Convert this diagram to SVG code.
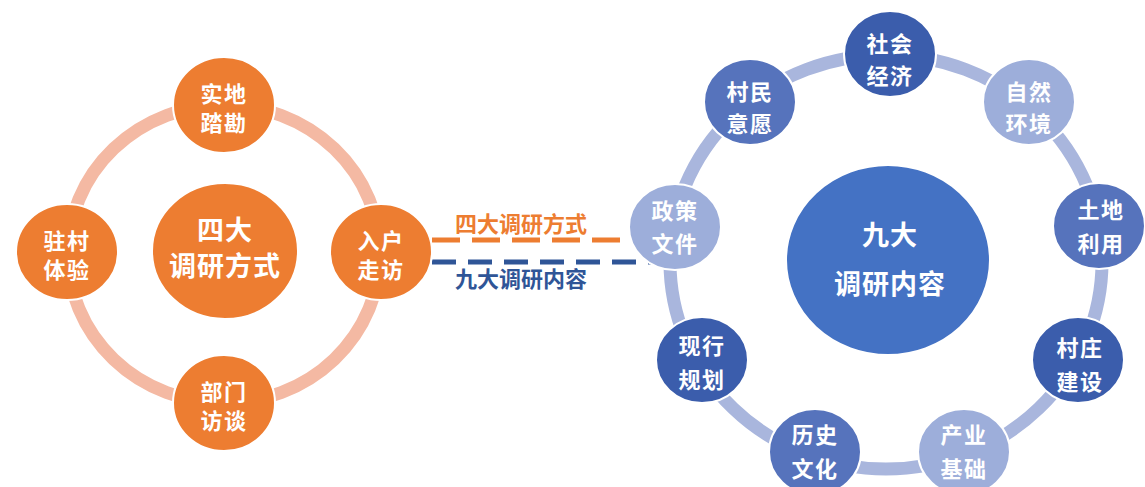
<svg xmlns="http://www.w3.org/2000/svg" width="1145" height="487" viewBox="0 0 1145 487">
<style>
.t{font-family:"Noto Sans CJK SC","Noto Sans",sans-serif;font-weight:bold;fill:#fff;text-anchor:middle;font-size:22px;letter-spacing:1.5px}
.tb{font-size:27px;letter-spacing:1px}
.o{fill:#ED7D31;stroke:#fff;stroke-width:2}
.d{fill:#3B5DAC;stroke:#fff;stroke-width:2}
.m{fill:#5673BC;stroke:#fff;stroke-width:2}
.l{fill:#9DAEDA;stroke:#fff;stroke-width:2}
.lbl{font-family:"Noto Sans CJK SC","Noto Sans",sans-serif;font-weight:bold;font-size:22px;text-anchor:middle}
</style>
<rect width="1145" height="487" fill="#fff"/>
<g id="connectors">
<ellipse cx="224" cy="254" rx="156" ry="149" fill="none" stroke="#F4B9A3" stroke-width="13"/>
<ellipse cx="886" cy="262" rx="216" ry="207" fill="none" stroke="#A9B6DD" stroke-width="13"/>
<line x1="432" y1="240" x2="624" y2="240" stroke="#ED7D31" stroke-width="5" stroke-dasharray="28 12"/>
<line x1="432" y1="262" x2="662" y2="262" stroke="#2F5597" stroke-width="5" stroke-dasharray="24 12"/>
<text class="lbl" x="521" y="232" fill="#ED7D31">四大调研方式</text>
<text class="lbl" x="521" y="287" fill="#2F5597">九大调研内容</text>
</g>
<g id="left-center"><ellipse class="o" cx="225" cy="251" rx="73" ry="68"/><text class="t tb" x="225" y="240">四大</text><text class="t tb" x="225" y="276">调研方式</text></g>
<g id="n-shidi"><ellipse class="o" cx="224" cy="105" rx="51" ry="48"/><text class="t" x="224" y="102">实地</text><text class="t" x="224" y="131">踏勘</text></g>
<g id="n-zhucun"><ellipse class="o" cx="67" cy="252" rx="51" ry="48"/><text class="t" x="67" y="249">驻村</text><text class="t" x="67" y="278">体验</text></g>
<g id="n-ruhu"><ellipse class="o" cx="381" cy="252" rx="51" ry="48"/><text class="t" x="381" y="249">入户</text><text class="t" x="381" y="278">走访</text></g>
<g id="n-bumen"><ellipse class="o" cx="224" cy="403" rx="51" ry="48"/><text class="t" x="224" y="400">部门</text><text class="t" x="224" y="429">访谈</text></g>
<g id="right-center"><ellipse cx="888" cy="260" rx="102" ry="95" fill="#4472C4" stroke="#fff" stroke-width="2"/><text class="t tb" x="890" y="245">九大</text><text class="t tb" x="890" y="294">调研内容</text></g>
<g id="n-shehui"><ellipse class="d" cx="890" cy="54" rx="46" ry="43"/><text class="t" x="890" y="52">社会</text><text class="t" x="890" y="84">经济</text></g>
<g id="n-ziran"><ellipse class="l" cx="1029" cy="102" rx="46" ry="43"/><text class="t" x="1029" y="100">自然</text><text class="t" x="1029" y="132">环境</text></g>
<g id="n-tudi"><ellipse class="m" cx="1099" cy="226" rx="46" ry="43"/><text class="t" x="1101" y="218">土地</text><text class="t" x="1101" y="252">利用</text></g>
<g id="n-cunzhuang"><ellipse class="d" cx="1078" cy="360" rx="46" ry="43"/><text class="t" x="1080" y="356">村庄</text><text class="t" x="1080" y="390">建设</text></g>
<g id="n-chanye"><ellipse class="l" cx="964" cy="452" rx="46" ry="43"/><text class="t" x="964" y="443">产业</text><text class="t" x="964" y="477">基础</text></g>
<g id="n-lishi"><ellipse class="m" cx="815" cy="452" rx="46" ry="43"/><text class="t" x="815" y="443">历史</text><text class="t" x="815" y="477">文化</text></g>
<g id="n-xianxing"><ellipse class="d" cx="702" cy="360" rx="46" ry="43"/><text class="t" x="702" y="354">现行</text><text class="t" x="702" y="388">规划</text></g>
<g id="n-zhengce"><ellipse class="l" cx="675" cy="227" rx="46" ry="43"/><text class="t" x="675" y="219">政策</text><text class="t" x="675" y="252">文件</text></g>
<g id="n-cunmin"><ellipse class="m" cx="750" cy="102" rx="46" ry="43"/><text class="t" x="750" y="100">村民</text><text class="t" x="750" y="132">意愿</text></g>
</svg>
